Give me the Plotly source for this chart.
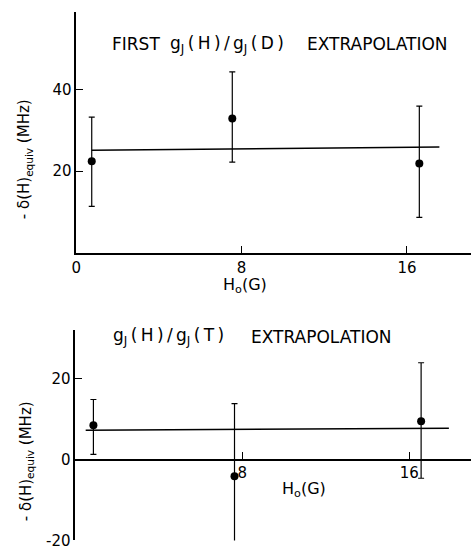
import plotly.graph_objects as go

# ---- data: top panel (FIRST gJ(H)/gJ(D) extrapolation)
top_x = [0.75, 7.55, 16.6]
top_y = [22.4, 32.9, 21.9]
top_err_plus = [10.8, 11.4, 14.0]
top_err_minus = [11.0, 10.7, 13.2]
top_fit_x = [0.75, 17.57]
top_fit_y = [25.1, 25.9]
top_yticks = [20, 40]
top_xticks = [0, 8, 16]

# ---- data: bottom panel (gJ(H)/gJ(T) extrapolation)
bot_x = [0.87, 7.63, 16.57]
bot_y = [8.5, -4.1, 9.5]
bot_err_plus = [6.4, 18.0, 14.5]
bot_err_minus = [7.2, 17.1, 14.1]
bot_fit_x = [0.5, 17.9]
bot_fit_y = [7.3, 7.8]
bot_yticks = [-20, 0, 20]
bot_xticks = [8, 16]

FONT = "DejaVu Sans"
W, H = 471, 560

top_yrange = [0, 59]
bot_yrange = [-20, 32.2]
top_dom = [1 - 257 / H, 1 - 12 / H]
bot_dom = [1 - 549.3 / H, 1 - 335 / H]

fig = go.Figure()

def add_panel(xs, ys, ep, em, fx, fy, xa, ya):
    fig.add_trace(go.Scatter(
        x=xs, y=ys, mode="markers", xaxis=xa, yaxis=ya,
        marker=dict(color="black", size=8),
        error_y=dict(type="data", symmetric=False, array=ep, arrayminus=em,
                     color="black", thickness=1.2, width=3),
        cliponaxis=False, showlegend=False))
    fig.add_trace(go.Scatter(
        x=fx, y=fy, mode="lines", xaxis=xa, yaxis=ya,
        line=dict(color="black", width=1.6), cliponaxis=False,
        showlegend=False))

add_panel(top_x, top_y, top_err_plus, top_err_minus, top_fit_x, top_fit_y, "x", "y")
add_panel(bot_x, bot_y, bot_err_plus, bot_err_minus, bot_fit_x, bot_fit_y, "x2", "y2")

bot_xpos = bot_dom[0] + (0 - bot_yrange[0]) / (bot_yrange[1] - bot_yrange[0]) * (bot_dom[1] - bot_dom[0])

axis_common = dict(showgrid=False, zeroline=False, showline=True, linecolor="black",
                   linewidth=1.5, ticks="inside", ticklen=7, tickwidth=1.3,
                   tickcolor="black", tickfont=dict(family=FONT, size=15, color="black"))

fig.update_layout(
    width=W, height=H, margin=dict(l=0, r=0, t=0, b=0),
    paper_bgcolor="white", plot_bgcolor="white",
    font=dict(family=FONT, color="black"),
    xaxis=dict(domain=[72 / W, 1], range=[0, 19.1], anchor="y",
               tickvals=top_xticks, ticktext=[str(v) for v in top_xticks], **axis_common),
    yaxis=dict(domain=top_dom, range=top_yrange, anchor="x",
               tickvals=top_yticks, ticktext=[str(v) for v in top_yticks], **axis_common),
    xaxis2=dict(domain=[71 / W, 1], range=[0, 18.96], anchor="free", position=bot_xpos,
                tickvals=bot_xticks, ticktext=[str(v) for v in bot_xticks], **axis_common),
    yaxis2=dict(domain=bot_dom, range=bot_yrange, anchor="x2",
                tickvals=bot_yticks, ticktext=["-20", "0", "20"], **axis_common),
)

TS = "\u2009"  # thin space, mimics the lettering's wide spacing
annotations = [
    dict(text="FIRST", x=132, y=45, size=17),
    dict(text=f"g<sub>J</sub>{TS}({TS}H{TS}){TS}/{TS}g<sub>J</sub>{TS}({TS}D{TS})", x=224, y=45, size=17),
    dict(text="EXTRAPOLATION", x=377, y=45, size=17),
    dict(text=f"g<sub>J</sub>{TS}({TS}H{TS}){TS}/{TS}g<sub>J</sub>{TS}({TS}T{TS})", x=165, y=342, size=17),
    dict(text="EXTRAPOLATION", x=320, y=342, size=17),
    dict(text="H<sub>o</sub>(G)", x=243, y=290, size=16),
    dict(text="H<sub>o</sub>(G)", x=302, y=498, size=16),
    dict(text="- δ(H)<sub>equiv</sub> (MHz)", x=20, y=162, textangle=-90, size=15),
    dict(text="- δ(H)<sub>equiv</sub> (MHz)", x=22, y=469, textangle=-90, size=15),
]
for a in annotations:
    fig.add_annotation(text=a["text"], x=a["x"] / W, y=1 - a["y"] / H,
                       xref="paper", yref="paper", showarrow=False,
                       xanchor="center", yanchor="middle",
                       textangle=a.get("textangle", 0),
                       font=dict(family=FONT, size=a["size"], color="black"))

fig.write_html("out.html", config={"displayModeBar": False},
               post_script="document.body.style.margin='0px';document.body.style.overflow='hidden';")
